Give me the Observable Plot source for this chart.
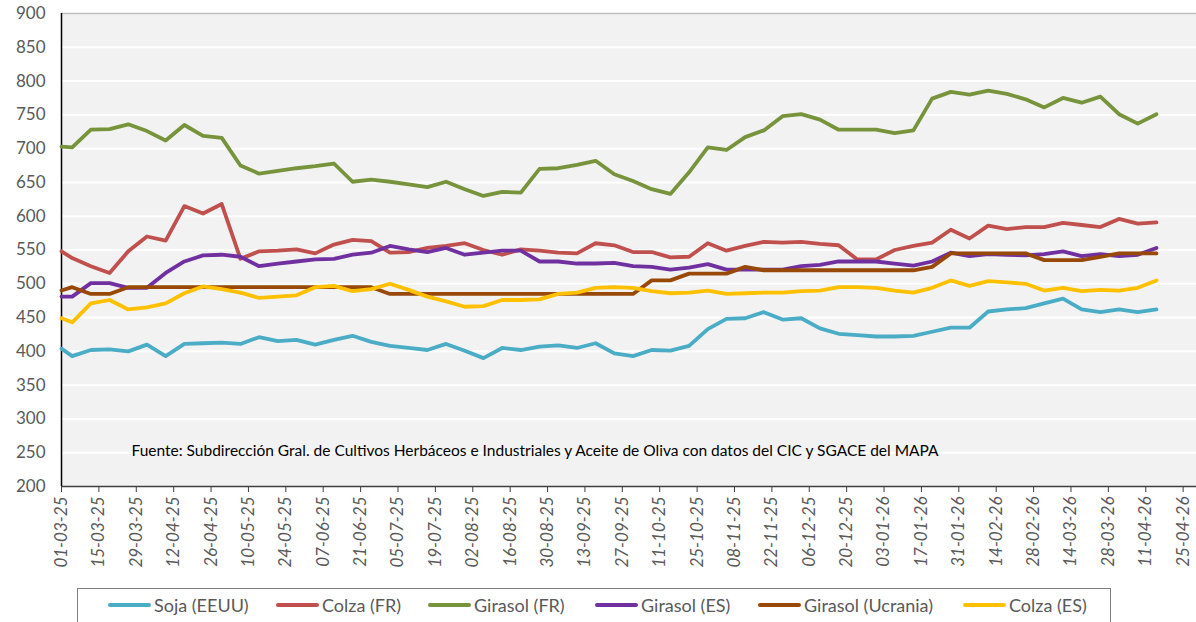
<!DOCTYPE html>
<html>
<head>
<meta charset="utf-8">
<script src="https://cdn.jsdelivr.net/npm/d3@7"></script>
<script src="https://cdn.jsdelivr.net/npm/@observablehq/plot@0.6"></script>
<style>
  html, body { margin: 0; padding: 0; background: #ffffff; }
  body { width: 1196px; height: 622px; overflow: hidden; font-family: Lato, "Open Sans", sans-serif; }
  #chart { position: absolute; left: 0; top: 0; }
  #legend { position: absolute; left: 77px; top: 588px; width: 1032px; height: 44px; border: 1px solid #7f7f7f; background: #fff; }
  .item { position: absolute; top: 5px; display: flex; align-items: center; font-size: 18px; color: #595959; white-space: nowrap; }
  .sw { width: 43px; height: 4px; border-radius: 2px; margin-right: 3px; }
</style>
</head>
<body>
<div id="chart"></div>
<div id="legend"></div>
<script>
// ---- data ----
const dates = [
  "2025-03-01","2025-03-05","2025-03-12","2025-03-19","2025-03-26","2025-04-02","2025-04-09","2025-04-16","2025-04-23","2025-04-30",
  "2025-05-07","2025-05-14","2025-05-21","2025-05-28","2025-06-04","2025-06-11","2025-06-18","2025-06-25","2025-07-02","2025-07-09",
  "2025-07-16","2025-07-23","2025-07-30","2025-08-06","2025-08-13","2025-08-20","2025-08-27","2025-09-03","2025-09-10","2025-09-17",
  "2025-09-24","2025-10-01","2025-10-08","2025-10-15","2025-10-22","2025-10-29","2025-11-05","2025-11-12","2025-11-19","2025-11-26",
  "2025-12-03","2025-12-10","2025-12-17","2025-12-24","2025-12-31","2026-01-07","2026-01-14","2026-01-21","2026-01-28","2026-02-04",
  "2026-02-11","2026-02-18","2026-02-25","2026-03-04","2026-03-11","2026-03-18","2026-03-25","2026-04-01","2026-04-08","2026-04-15"
];
const sojaEEUU = [404,393,402,403,400,410,393,411,412,413, 411,421,415,417,410,417,423,414,408,405,
  402,411,401,390,405,402,407,409,405,412, 397,393,402,401,408,433,448,449,458,447,
  449,434,426,424,422,422,423,429,435,435, 459,462,464,471,478,462,458,462,458,462];
const colzaFR = [548,538,526,516,548,570,564,615,604,618, 537,548,549,551,545,558,565,563,546,547,
  553,556,560,550,543,551,549,546,545,560, 557,547,547,539,540,560,549,556,562,561,
  562,559,557,536,536,550,556,561,580,567, 586,581,584,584,590,587,584,596,589,591];
const girasolFR = [703,702,728,729,736,726,712,735,719,716, 675,663,667,671,674,678,651,654,651,647,
  643,651,640,630,636,635,670,671,676,682, 662,652,640,633,665,702,698,717,727,748,
  751,743,728,728,728,723,727,774,784,780, 786,781,773,761,775,768,777,751,737,751];
const girasolES = [481,481,501,501,494,494,516,533,542,543, 540,526,530,533,536,537,543,546,556,551,
  547,553,543,546,549,549,533,533,530,530, 531,526,525,521,524,529,521,521,521,521,
  526,528,533,533,533,530,527,533,546,541, 544,543,542,544,548,541,544,541,543,553];
const girasolUcrania = [490,495,485,485,495,495,495,495,495,495, 495,495,495,495,495,495,495,495,485,485,
  485,485,485,485,485,485,485,485,485,485, 485,485,505,505,515,515,515,525,520,520,
  520,520,520,520,520,520,520,525,545,545, 545,545,545,535,535,535,540,545,545,545];
const colzaES = [449,443,471,476,462,465,471,486,496,492, 487,479,481,483,495,497,489,492,500,491,
  481,474,466,467,476,476,477,485,487,494, 495,494,489,486,487,490,485,486,487,487,
  489,490,495,495,494,490,487,494,505,497, 504,502,500,490,494,489,491,490,494,505];
const seriesNames = ["Soja (EEUU)","Colza (FR)","Girasol (FR)","Girasol (ES)","Girasol (Ucrania)","Colza (ES)"];
const seriesColors = ["#4bacc6","#c0504d","#77933c","#7030a0","#984807","#ffc000"];
const tickLabels = ["01-03-25","15-03-25","29-03-25","12-04-25","26-04-25","10-05-25","24-05-25","07-06-25","21-06-25","05-07-25",
  "19-07-25","02-08-25","16-08-25","30-08-25","13-09-25","27-09-25","11-10-25","25-10-25","08-11-25","22-11-25",
  "06-12-25","20-12-25","03-01-26","17-01-26","31-01-26","14-02-26","28-02-26","14-03-26","28-03-26","11-04-26","25-04-26"];
const yTicks = [200,250,300,350,400,450,500,550,600,650,700,750,800,850,900];
const caption = "Fuente: Subdirección Gral. de Cultivos Herbáceos e Industriales y Aceite de Oliva con datos del CIC y SGACE del MAPA";

// ---- build table ----
const parseISO = d3.utcParse("%Y-%m-%d");
const parseTick = d3.utcParse("%d-%m-%y");
const values = [sojaEEUU, colzaFR, girasolFR, girasolES, girasolUcrania, colzaES];
const rows = [];
values.forEach((arr, s) => arr.forEach((v, i) => rows.push({date: parseISO(dates[i]), value: v, series: seriesNames[s]})));
const tickDates = tickLabels.map(parseTick);
const xDomain = [parseISO("2025-03-01"), parseISO("2026-04-30")];

const chart = Plot.plot({
  width: 1196,
  height: 585,
  marginLeft: 61,
  marginRight: 0,
  marginTop: 13,
  marginBottom: 99,
  style: {fontFamily: "Lato, 'Open Sans', sans-serif", background: "transparent"},
  x: {type: "utc", domain: xDomain},
  y: {domain: [200, 900]},
  color: {domain: seriesNames, range: seriesColors},
  marks: [
    Plot.frame({fill: "#f2f2f2", stroke: "none"}),
    Plot.ruleY(yTicks.filter(v => v > 200 && v < 900), {stroke: "#ffffff", strokeWidth: 2}),
    Plot.ruleY([900], {stroke: "#bfbfbf", strokeWidth: 1.5}),
    Plot.ruleY([200], {stroke: "#404040", strokeWidth: 1.5}),
    Plot.ruleX([xDomain[0]], {stroke: "#000000", strokeWidth: 1.5}),
    Plot.axisY({ticks: yTicks, tickSize: 0, tickPadding: 16, fontSize: 17, fill: "#595959", label: null, tickFormat: d => String(d)}),
    Plot.axisX({ticks: tickDates, tickFormat: d3.utcFormat("%d-%m-%y"), tickRotate: -90, tickSize: 6, tickPadding: 4,
      fontSize: 17, fontStyle: "italic", fill: "#595959", stroke: "#404040", label: null}),
    Plot.text([caption], {frameAnchor: "bottom-left", dx: 70, dy: -35, textAnchor: "start", lineAnchor: "middle",
      fontSize: 15.5, fill: "#000000"}),
    Plot.line(rows, {x: "date", y: "value", z: "series", stroke: "series", strokeWidth: 3.8,
      strokeLinejoin: "round", strokeLinecap: "round"})
  ]
});
document.getElementById("chart").appendChild(chart);

// ---- legend ----
const legendOffsets = [30, 198, 350, 517, 680, 885];
const legend = document.getElementById("legend");
seriesNames.forEach((name, i) => {
  const item = document.createElement("div");
  item.className = "item";
  item.style.left = legendOffsets[i] + "px";
  const sw = document.createElement("span");
  sw.className = "sw";
  sw.style.background = seriesColors[i];
  const label = document.createElement("span");
  label.textContent = name;
  item.appendChild(sw);
  item.appendChild(label);
  legend.appendChild(item);
});
</script>
</body>
</html>
